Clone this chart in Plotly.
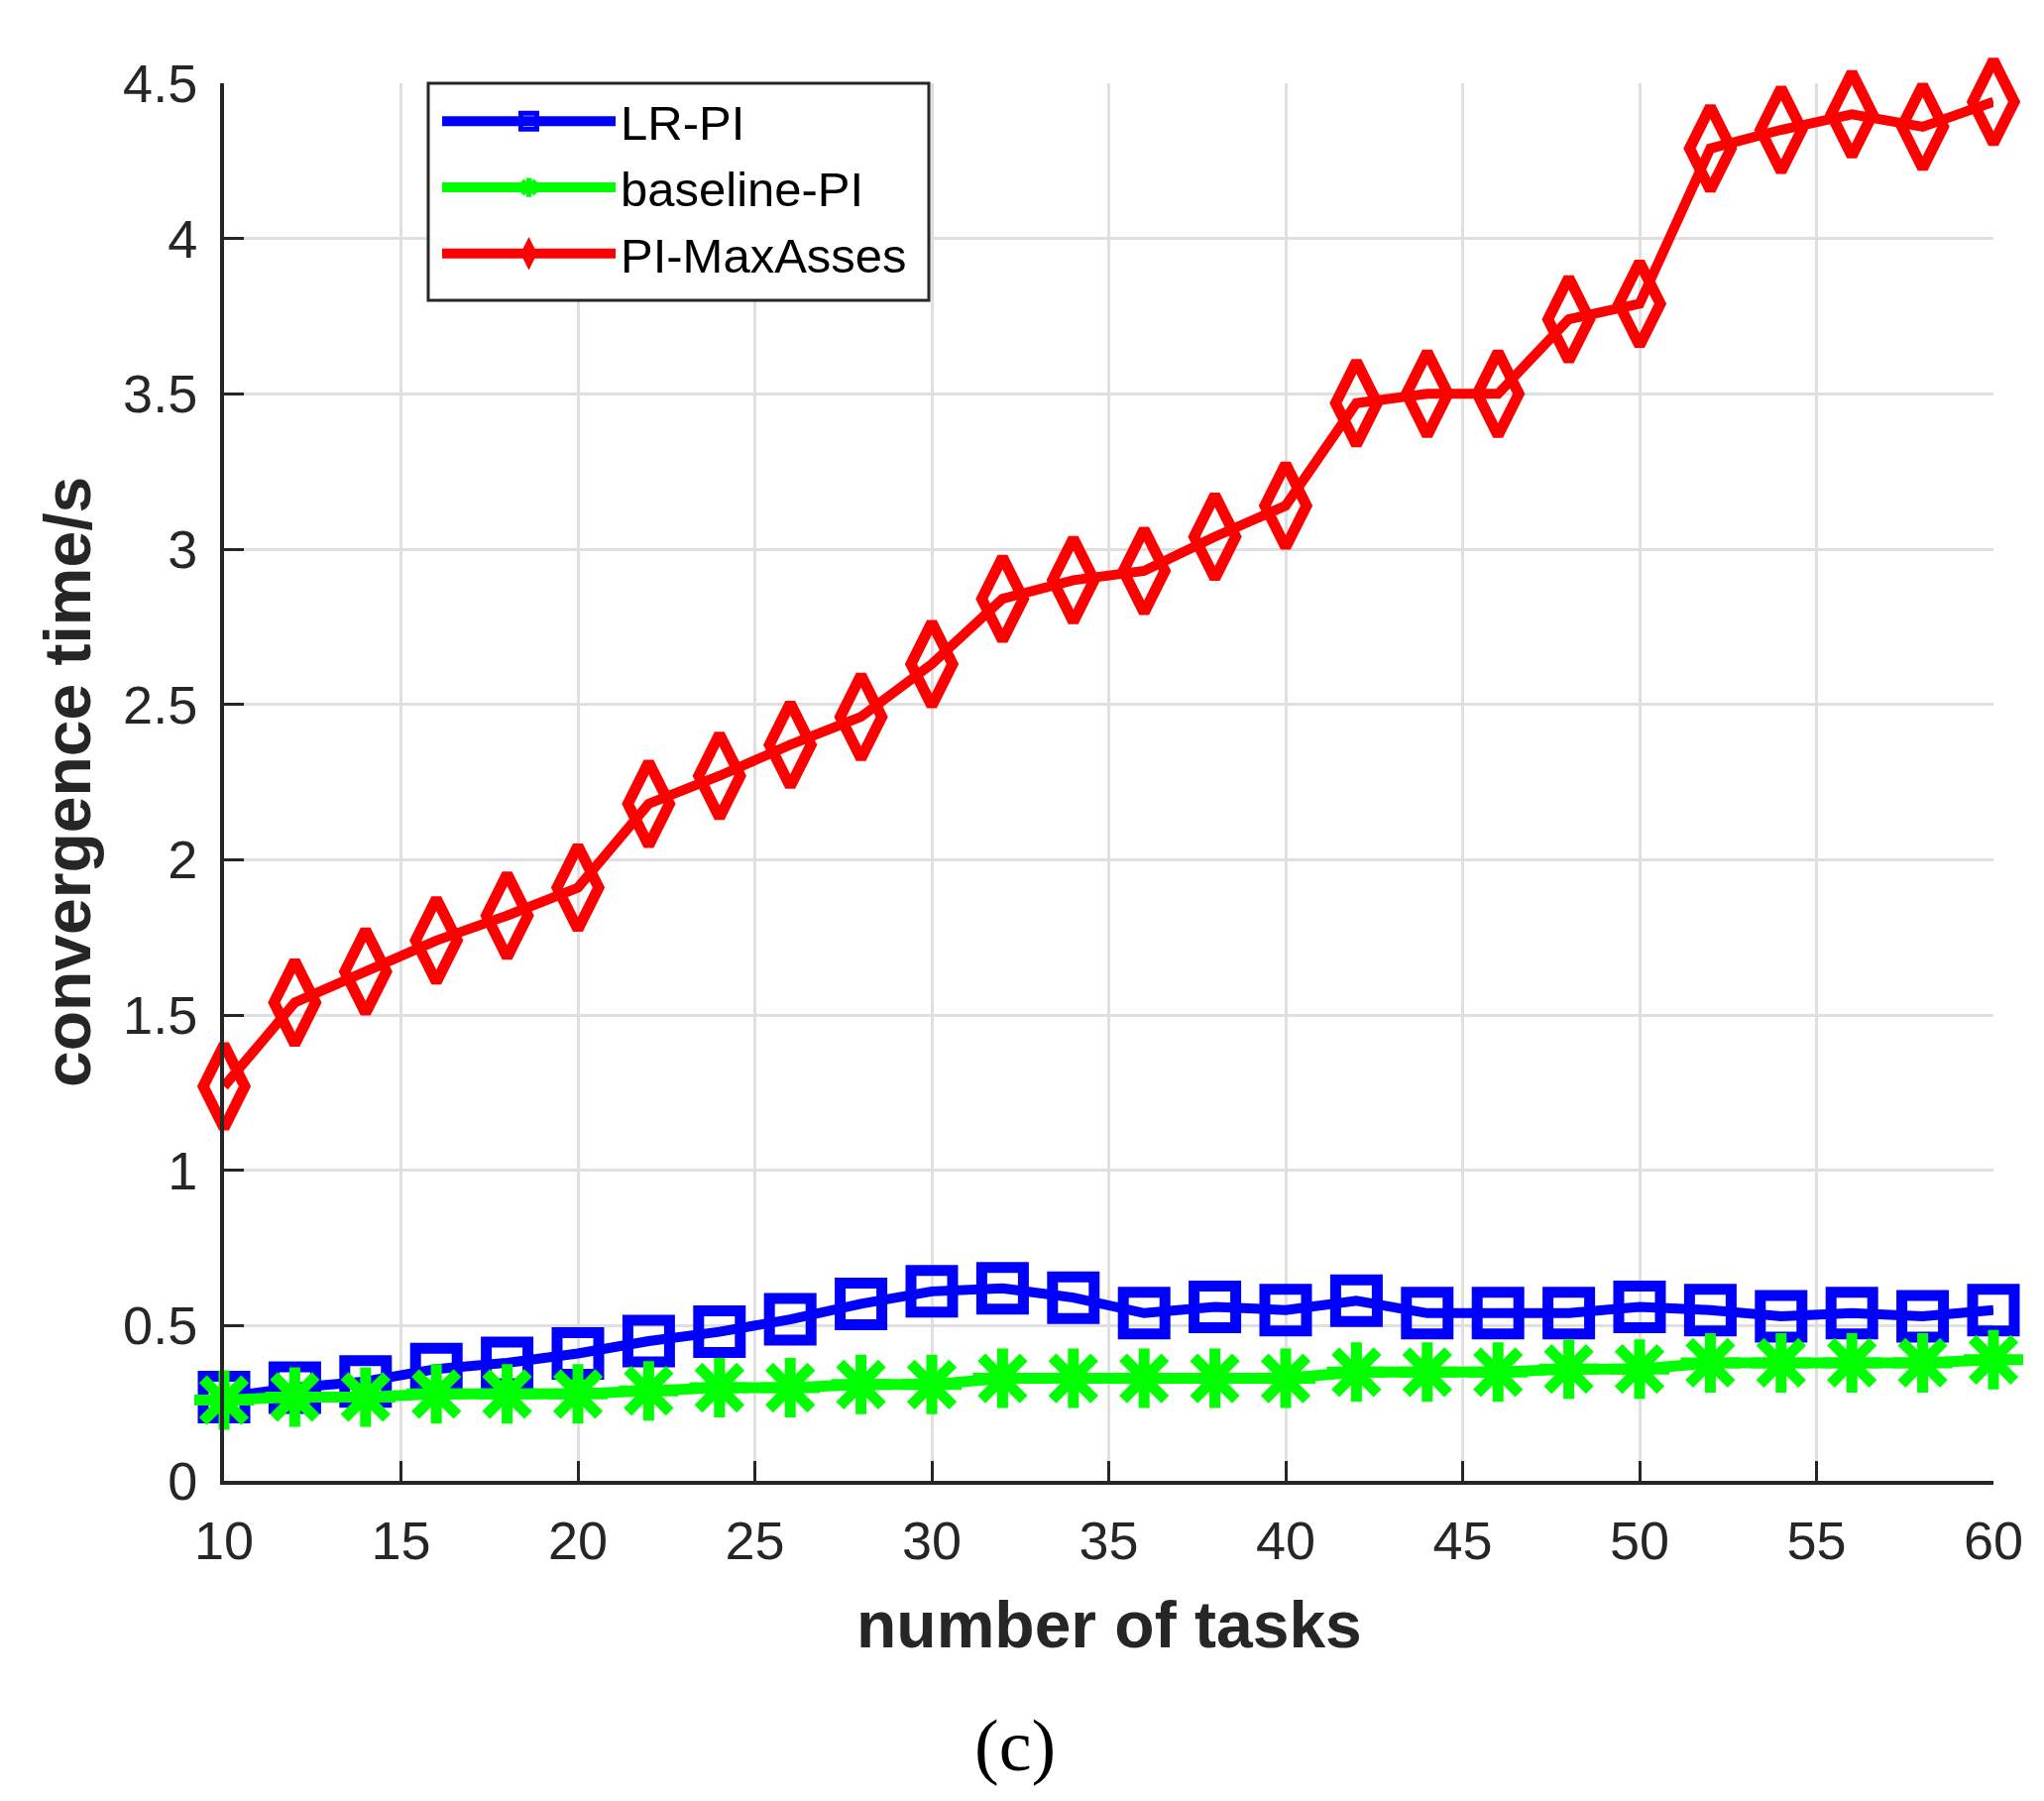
import plotly.graph_objects as go

tasks = [10, 12, 14, 16, 18, 20, 22, 24, 26, 28, 30, 32, 34, 36, 38, 40, 42, 44, 46, 48, 50, 52, 54, 56, 58, 60]
lr_pi = [0.27, 0.30, 0.32, 0.36, 0.38, 0.41, 0.45, 0.48, 0.52, 0.57, 0.61, 0.62, 0.59,
         0.54, 0.56, 0.55, 0.58, 0.54, 0.54, 0.54, 0.56, 0.55, 0.53, 0.54, 0.53, 0.55]
baseline_pi = [0.26, 0.27, 0.27, 0.28, 0.28, 0.28, 0.29, 0.30, 0.30, 0.31, 0.31, 0.33, 0.33,
               0.33, 0.33, 0.33, 0.35, 0.35, 0.35, 0.36, 0.36, 0.38, 0.38, 0.38, 0.38, 0.39]
pi_maxasses = [1.27, 1.54, 1.64, 1.74, 1.82, 1.91, 2.18, 2.27, 2.37, 2.46, 2.63, 2.84, 2.90,
               2.93, 3.04, 3.14, 3.47, 3.50, 3.50, 3.74, 3.79, 4.29, 4.35, 4.40, 4.36, 4.44]

x_ticks = [10, 15, 20, 25, 30, 35, 40, 45, 50, 55, 60]
y_ticks = [0, 0.5, 1, 1.5, 2, 2.5, 3, 3.5, 4, 4.5]
y_tick_text = ["0", "0.5", "1", "1.5", "2", "2.5", "3", "3.5", "4", "4.5"]

W, H = 2062, 1817
L, R, T, B = 218, 59, 76, 331
PW, PH = W - L - R, H - T - B
AX_BOTTOM = H - B


def px_x(p):
    return (p - L) / PW


def px_y(p):
    return (AX_BOTTOM - p) / PH


fig = go.Figure()
fig.add_trace(go.Scatter(
    x=tasks, y=lr_pi, name="LR-PI", mode="lines+markers", cliponaxis=False,
    line=dict(color="#0000ff", width=10),
    marker=dict(symbol="square-open", size=42, color="#0000ff",
                line=dict(color="#0000ff", width=11)),
))
fig.add_trace(go.Scatter(
    x=tasks, y=baseline_pi, name="baseline-PI", mode="lines+markers", cliponaxis=False,
    line=dict(color="#00ff00", width=11),
    marker=dict(symbol="asterisk-open", size=50, color="#00ff00",
                line=dict(color="#00ff00", width=11)),
))
fig.add_trace(go.Scatter(
    x=tasks, y=pi_maxasses, name="PI-MaxAsses", mode="lines+markers", cliponaxis=False,
    line=dict(color="#ff0000", width=10),
    marker=dict(symbol="diamond-tall-open", size=60, color="#ff0000",
                line=dict(color="#ff0000", width=11)),
))

axis_font = dict(family="Liberation Sans, Arial, sans-serif", size=54, color="#262626")
fig.update_xaxes(
    range=[10, 60], tickvals=x_ticks, ticktext=[str(v) for v in x_ticks],
    showgrid=True, gridcolor="#dfdfdf", gridwidth=3, zeroline=False,
    showline=True, linecolor="#262626", linewidth=4,
    ticks="inside", ticklen=20, tickwidth=3, tickcolor="#262626",
    tickfont=axis_font, ticklabelstandoff=10,
)
fig.update_yaxes(
    range=[0, 4.5], tickvals=y_ticks, ticktext=y_tick_text,
    showgrid=True, gridcolor="#dfdfdf", gridwidth=3, zeroline=False,
    showline=True, linecolor="#262626", linewidth=4,
    ticks="inside", ticklen=20, tickwidth=3, tickcolor="#262626",
    tickfont=axis_font, ticklabelstandoff=12,
)

title_font = dict(family="Liberation Sans, Arial, sans-serif", size=66, color="#262626")
fig.add_annotation(text="<b>number of tasks</b>", xref="paper", yref="paper",
                   x=0.5, y=px_y(AX_BOTTOM + 145), xanchor="center", yanchor="middle",
                   showarrow=False, font=title_font)
fig.add_annotation(text="<b>convergence time/s</b>", xref="paper", yref="paper",
                   x=px_x(60), y=0.5, xanchor="center", yanchor="middle",
                   textangle=-90, showarrow=False, font=title_font)
fig.add_annotation(text="(c)", xref="paper", yref="paper",
                   x=px_x(1016), y=px_y(AX_BOTTOM + 267), xanchor="center", yanchor="middle",
                   showarrow=False,
                   font=dict(family="Liberation Serif, Times New Roman, serif", size=74, color="#000000"))

# legend frame (white box with dark border)
fig.add_shape(type="rect", xref="paper", yref="paper",
              x0=px_x(424), x1=px_x(929), y0=px_y(295), y1=px_y(76),
              line=dict(color="#262626", width=3), fillcolor="white", layer="above")

fig.update_layout(
    width=W, height=H, autosize=False,
    margin=dict(l=L, r=R, t=T, b=B, pad=0),
    paper_bgcolor="white", plot_bgcolor="white",
    showlegend=True,
    legend=dict(
        x=px_x(433), y=px_y(76), xanchor="left", yanchor="top",
        bgcolor="rgba(0,0,0,0)", borderwidth=0,
        font=dict(family="Liberation Sans, Arial, sans-serif", size=49, color="#000000"),
        itemwidth=175, tracegroupgap=0,
    ),
)

fig.write_html("out.html")
